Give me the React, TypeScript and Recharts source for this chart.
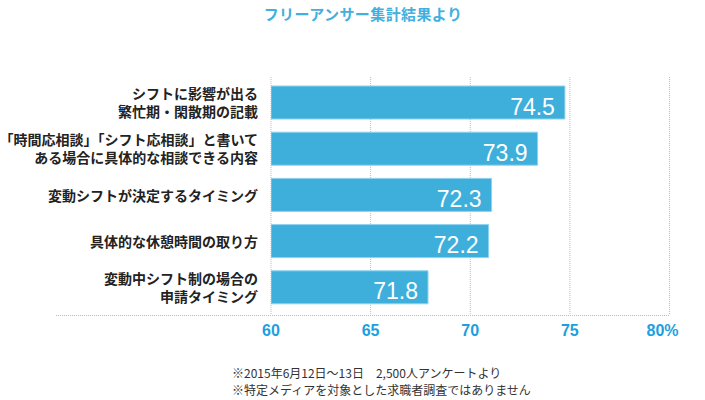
import React from "react";
import { BarChart, Bar, XAxis, YAxis, CartesianGrid, LabelList } from "recharts";

const title = "フリーアンサー集計結果より";
const categories = [
  "シフトに影響が出る\n繁忙期・閑散期の記載",
  "「時間応相談」「シフト応相談」と書いて\nある場合に具体的な相談できる内容",
  "変動シフトが決定するタイミング",
  "具体的な休憩時間の取り方",
  "変動中シフト制の場合の\n申請タイミング",
];
// bar lengths as drawn in the picture
const barLengths = [74.75, 73.38, 71.07, 70.92, 67.88];
// numbers printed on the bars
const labelValues = [74.5, 73.9, 72.3, 72.2, 71.8];
const xTicks = [60, 65, 70, 75, 80];
const notes = [
  "※2015年6月12日〜13日　2,500人アンケートより",
  "※特定メディアを対象とした求職者調査ではありません",
];

const data = categories.map((c, i) => ({
  name: c,
  length: barLengths[i],
  label: labelValues[i].toFixed(1),
}));

const JP = '"Noto Sans CJK JP", "Noto Sans", sans-serif';
const BLUE = "#3eaedb";
const GRID = "#86cdee";

const YTick = (props: any) => {
  const { x, y, payload } = props;
  const lines = String(payload.value).split("\n");
  const lh = 18;
  return (
    <text
      x={x}
      y={y}
      textAnchor="end"
      fill="#222"
      fontFamily={JP}
      fontWeight={700}
      fontSize={14}
    >
      {lines.map((l, i) => (
        <tspan
          key={i}
          x={x}
          y={y + (i - (lines.length - 1) / 2) * lh}
          dominantBaseline="central"
        >
          {l}
        </tspan>
      ))}
    </text>
  );
};

const XTick = (props: any) => {
  const { x, y, payload, index } = props;
  const last = index === xTicks.length - 1;
  return (
    <text
      x={last ? x - 7 : x}
      y={y}
      dy="0.71em"
      textAnchor="middle"
      fill="#1d9fdf"
      fontFamily='"Liberation Sans", Arial, sans-serif'
      fontWeight={700}
      fontSize={16}
    >
      {last ? `${payload.value}%` : payload.value}
    </text>
  );
};

const ValueLabel = (props: any) => {
  const { x, y, width, height, value } = props;
  return (
    <text
      x={x + width - 10}
      y={y + height / 2 + 4}
      dominantBaseline="central"
      textAnchor="end"
      fill="#fff"
      fontFamily='"Liberation Sans", Arial, sans-serif'
      fontSize={23}
    >
      {value}
    </text>
  );
};

export default function App() {
  return (
    <div style={{ position: "absolute", left: 0, top: 0, width: 705, height: 400, background: "#fff" }}>
      <div
        style={{
          position: "absolute",
          left: 0,
          width: 726,
          top: 4,
          textAlign: "center",
          fontFamily: JP,
          fontWeight: 700,
          fontSize: 15,
          letterSpacing: 0.4,
          color: "#41afe0",
          lineHeight: "20px",
        }}
      >
        {title}
      </div>
      <BarChart
        width={705}
        height={400}
        layout="vertical"
        data={data}
        margin={{ top: 77, right: 35.5, bottom: 55, left: 0 }}
        barSize={33}
      >
        <CartesianGrid horizontal={false} vertical stroke={GRID} strokeDasharray="1 1" />
        <XAxis
          type="number"
          domain={[60, 80]}
          ticks={xTicks}
          allowDataOverflow
          height={30}
          axisLine={false}
          tickLine={false}
          tickSize={6}
          tickMargin={4}
          tick={<XTick />}
          interval={0}
        />
        <YAxis
          type="category"
          dataKey="name"
          width={271}
          axisLine={false}
          tickLine={false}
          tickSize={0}
          tickMargin={13}
          tick={<YTick />}
          interval={0}
          padding={{ top: 2, bottom: 5 }}
        />
        <Bar dataKey="length" fill={BLUE} stroke="#8fd2ef" strokeWidth={1} isAnimationActive={false}>
          <LabelList dataKey="label" content={<ValueLabel />} />
        </Bar>
      </BarChart>
      <div
        style={{
          position: "absolute",
          left: 56,
          top: 315,
          width: 613,
          borderTop: `1px dotted ${GRID}`,
        }}
      />
      <div
        style={{
          position: "absolute",
          left: 232,
          top: 365,
          fontFamily: JP,
          fontSize: 12,
          lineHeight: "16.5px",
          color: "#333",
          whiteSpace: "pre",
        }}
      >
        {notes.map((n, i) => (
          <div key={i}>{n}</div>
        ))}
      </div>
    </div>
  );
}
